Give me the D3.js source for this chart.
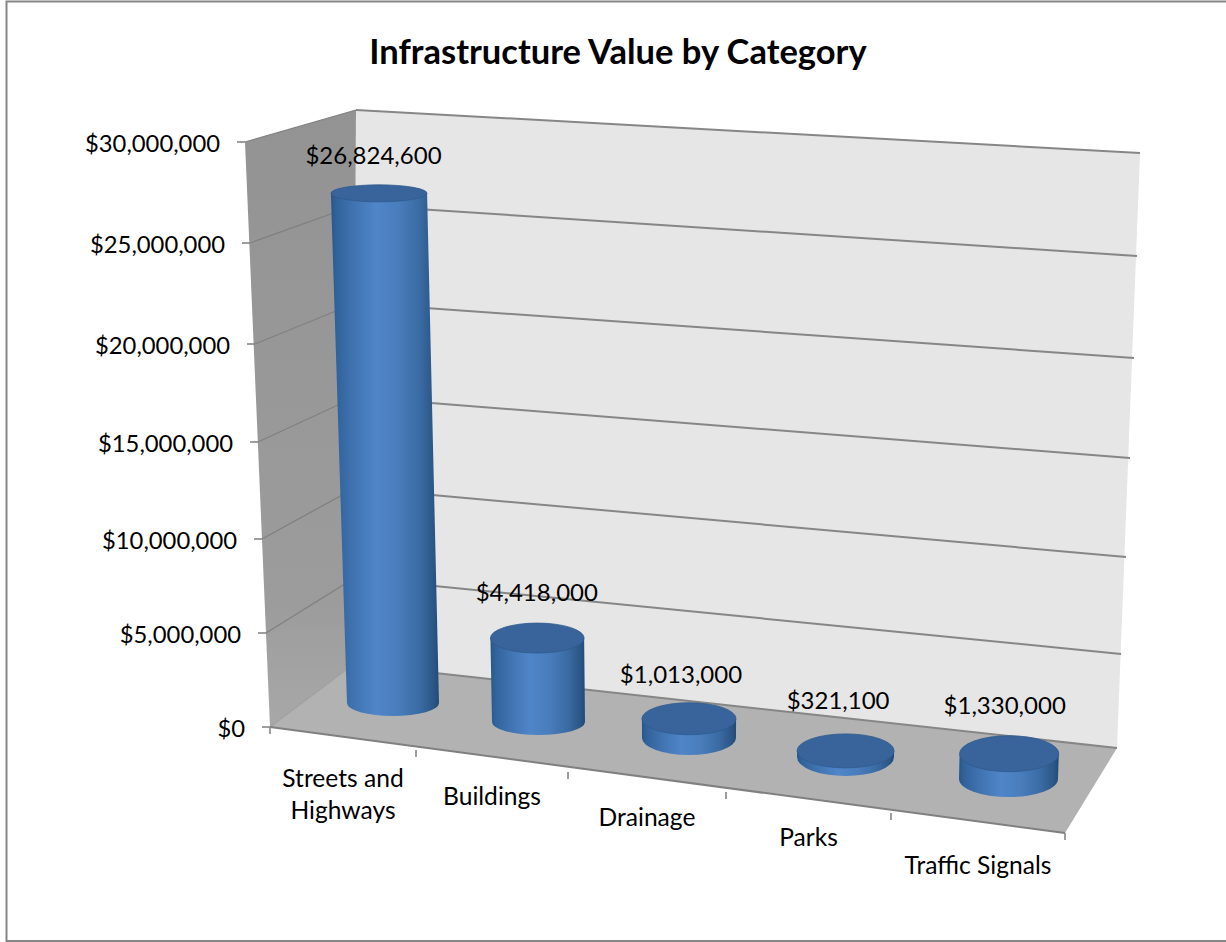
<!DOCTYPE html>
<html>
<head>
<meta charset="utf-8">
<script src="https://cdn.jsdelivr.net/npm/d3@7/dist/d3.min.js"></script>
<style>
html,body{margin:0;padding:0;background:#fff;}
svg{display:block;}
text{font-family:Lato,"Noto Sans",sans-serif;fill:#000;}
</style>
</head>
<body>
<svg id="chart" width="1226" height="942"></svg>
<script>
// Chart values
const chartTitle = "Infrastructure Value by Category";
const categories = [["Streets and","Highways"],["Buildings"],["Drainage"],["Parks"],["Traffic Signals"]];
const values = [26824600, 4418000, 1013000, 321100, 1330000];
const valueLabels = ["$26,824,600","$4,418,000","$1,013,000","$321,100","$1,330,000"];
const axisValues = [0, 5000000, 10000000, 15000000, 20000000, 25000000, 30000000];
const axisLabels = ["$0","$5,000,000","$10,000,000","$15,000,000","$20,000,000","$25,000,000","$30,000,000"];

const svg = d3.select("#chart");
const defs = svg.append("defs");

// Value scales along the three vertical edges of the plot box
const frontY = d3.scaleLinear().domain(axisValues).range([727,633,539,442,344,243,142]);
const frontX = d3.scaleLinear().domain(axisValues).range([270,266,262,258,255,250,245]);
const backLeftY = d3.scaleLinear().domain(axisValues).range([664,578,488,397,303,205,110]);
const backLeftX = d3.scaleLinear().domain(axisValues).range([354,354.4,354.8,355.2,355.5,355.8,356]);
const backRightY = d3.scaleLinear().domain(axisValues).range([748,654,557,458,358,256,153]);
const backRightX = d3.scaleLinear().domain(axisValues).range([1117,1121,1126,1130,1134,1137,1140]);
const maxValue = d3.max(axisValues);

// Category scales: front-edge ticks and the foot of each cylinder
const slots = d3.range(categories.length + 1);
const idx = d3.range(categories.length);
const tickX = d3.scaleLinear().domain(slots).range([270,416,568,726,891,1065]);
const tickY = d3.scaleLinear().domain(slots).range([727,750,772,792,813,833]);
const baseX = d3.scaleLinear().domain(idx).range([393,538.5,689,845.5,1008.5]);
const baseY = d3.scaleLinear().domain(idx).range([703,722,738,757,779]);
const baseRx = d3.scaleLinear().domain(idx).range([46,46.5,47,48.5,49.5]);
const baseRy = d3.scaleLinear().domain(idx).range([13,13,17,19,18]);
const topRy = d3.scaleLinear().domain(idx).range([8.5,15,16,17,18]);
const barHeight = d3.scaleLinear().domain([0,maxValue]).range([0,570]);

// Vertical lines converge toward a vanishing point above the box
const vanishX = 700, lean = 8.96e-5;
const leaned = (x,h) => x + (x - vanishX) * lean * h;

// Frame
svg.append("path").attr("d","M6.5,942V1.5H1226").attr("fill","none").attr("stroke","#868686").attr("stroke-width",2);
svg.append("line").attr("x1",6).attr("x2",1226).attr("y1",941).attr("y2",941).attr("stroke","#868686").attr("stroke-width",2);

// Title
svg.append("text").attr("x",618).attr("y",64).attr("text-anchor","middle")
  .attr("font-size",34.5).attr("font-weight",700).text(chartTitle);

// Gradients
const wallGrad = defs.append("linearGradient").attr("id","wallGrad").attr("x1",0).attr("x2",0).attr("y1",0).attr("y2",1);
wallGrad.append("stop").attr("offset",0).attr("stop-color","#939393");
wallGrad.append("stop").attr("offset",0.8).attr("stop-color","#9c9c9c");
wallGrad.append("stop").attr("offset",1).attr("stop-color","#a8a8a8");

const sideGrad = defs.append("linearGradient").attr("id","sideGrad").attr("x1",0).attr("x2",1).attr("y1",0).attr("y2",0);
[[0,"#285788"],[0.05,"#31629b"],[0.2,"#3f72af"],[0.42,"#4f86c9"],[0.62,"#497dbc"],[0.82,"#3a6ba3"],[0.95,"#2b5686"],[1,"#224a76"]]
  .forEach(([o,c]) => sideGrad.append("stop").attr("offset",o).attr("stop-color",c));

// Box walls and floor
const poly = pts => "M" + pts.map(p => p.join(",")).join("L") + "Z";
svg.append("path").attr("fill","url(#wallGrad)")
  .attr("d",poly([[frontX(maxValue),frontY(maxValue)],[backLeftX(maxValue),backLeftY(maxValue)],[backLeftX(0),backLeftY(0)],[frontX(0),frontY(0)]]));
svg.append("path").attr("fill","#e6e6e6")
  .attr("d",poly([[backLeftX(maxValue),backLeftY(maxValue)],[backRightX(maxValue),backRightY(maxValue)],[backRightX(0),backRightY(0)],[backLeftX(0),backLeftY(0)]]));
svg.append("path").attr("fill","#b2b2b2")
  .attr("d",poly([[tickX(0),tickY(0)],[tickX(5),tickY(5)],[backRightX(0),backRightY(0)],[backLeftX(0),backLeftY(0)]]));

// Gridlines on both walls
svg.append("g").selectAll("line").data(axisValues).join("line")
  .attr("x1",frontX).attr("y1",frontY).attr("x2",backLeftX).attr("y2",backLeftY)
  .attr("stroke",d => d === 0 ? "#a0a0a0" : "#808080").attr("stroke-width",1.3);
svg.append("g").selectAll("line").data(axisValues).join("line")
  .attr("x1",backLeftX).attr("y1",backLeftY).attr("x2",backRightX).attr("y2",backRightY)
  .attr("stroke","#868686").attr("stroke-width",2);

// Value axis ticks and labels
svg.append("g").selectAll("line").data(axisValues).join("line")
  .attr("x1",d => frontX(d) - 8).attr("x2",frontX).attr("y1",frontY).attr("y2",frontY)
  .attr("stroke","#868686").attr("stroke-width",1.6);
svg.append("g").selectAll("text").data(axisValues).join("text")
  .attr("x",d => frontX(d) - 25).attr("y",d => frontY(d) + 10)
  .attr("text-anchor","end").attr("font-size",23.8)
  .text((d,i) => axisLabels[i]);

// Category axis
svg.append("line").attr("x1",tickX(0)).attr("y1",tickY(0)).attr("x2",tickX(5)).attr("y2",tickY(5))
  .attr("stroke","#808080").attr("stroke-width",2);
svg.append("g").selectAll("line").data(slots).join("line")
  .attr("x1",tickX).attr("x2",tickX).attr("y1",tickY).attr("y2",d => tickY(d) + 7)
  .attr("stroke","#868686").attr("stroke-width",1.6);

const labelY = d3.scaleLinear().domain(idx).range([795,797,818,838,866]);
const labelGroups = svg.append("g").selectAll("text").data(categories).join("text")
  .attr("text-anchor","middle").attr("font-size",24.6);
labelGroups.each(function(lines,i){
  const cx = (tickX(i) + tickX(i+1)) / 2;
  const t = d3.select(this);
  lines.forEach((line,k) => {
    t.append("tspan").attr("x",cx)
      .attr("y",labelY(i) + 8 + (k - (lines.length - 1) / 2) * 32)
      .text(line);
  });
});

// Cylinders
const bars = svg.append("g").selectAll("g").data(values).join("g");
bars.each(function(v,i){
  const g = d3.select(this);
  const h = barHeight(v);
  const scale = 1 + lean * h;
  const xb = baseX(i), yb = baseY(i), rb = baseRx(i), ryb = baseRy(i);
  const xt = leaned(xb,h), yt = yb - h, rt = rb * scale, ryt = topRy(i);
  g.append("path").attr("fill","url(#sideGrad)")
    .attr("d",`M${xt-rt},${yt}L${xb-rb},${yb}A${rb},${ryb} 0 0 0 ${xb+rb},${yb}L${xt+rt},${yt}Z`);
  g.append("ellipse").attr("cx",xt).attr("cy",yt).attr("rx",rt).attr("ry",ryt)
    .attr("fill","#38649b").attr("stroke","#2f5a8e").attr("stroke-width",0.8);
});

// Value labels above the cylinders
const labelDx = d3.scaleLinear().domain(idx).range([-5.5,-0.5,-8,-7.5,-4.5]);
const labelDy = d3.scaleLinear().domain(idx).range([-38,-46,-45,-51,-49]);
svg.append("g").selectAll("text").data(values).join("text")
  .attr("text-anchor","middle").attr("font-size",24)
  .attr("x",(v,i) => leaned(baseX(i),barHeight(v)) + labelDx(i))
  .attr("y",(v,i) => baseY(i) - barHeight(v) + labelDy(i) + 9)
  .text((v,i) => valueLabels[i]);
</script>
</body>
</html>
